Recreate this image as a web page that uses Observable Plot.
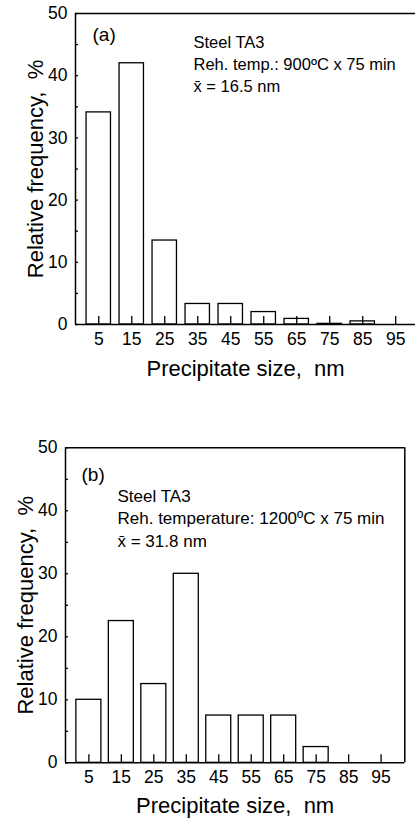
<!DOCTYPE html>
<html><head><meta charset="utf-8">
<script src="https://cdn.jsdelivr.net/npm/d3@7"></script>
<script src="https://cdn.jsdelivr.net/npm/@observablehq/plot@0.6"></script>
<style>
body{margin:0;background:#fff;width:415px;height:818px;overflow:hidden;}
#c svg{display:block;overflow:hidden}
</style></head><body><div id="c"></div>
<script>
const sizes = [5, 15, 25, 35, 45, 55, 65, 75, 85, 95];
const freqA = [34.1, 42, 13.5, 3.3, 3.3, 2.0, 0.9, 0.1, 0.5, 0];
const freqB = [10, 22.5, 12.5, 30, 7.5, 7.5, 7.5, 2.5, 0, 0];
const yMajor = [0, 10, 20, 30, 40, 50];
const yMinor = [5, 15, 25, 35, 45];
const notesA = ["Steel TA3", "Reh. temp.: 900ºC x 75 min", "x\u0304 = 16.5 nm"];
const notesB = ["Steel TA3", "Reh. temperature: 1200ºC x 75 min", "x\u0304 = 31.8 nm"];
const xTitle = "Precipitate size,\u00a0 nm";
const yTitle = "Relative frequency,\u00a0 %";

const FONT = "Liberation Sans, Arial, Helvetica, sans-serif";

function panel(o) {
  const rows = sizes.map((s, i) => ({size: s, freq: o.freq[i]}));
  const [x0, x1] = o.xDomain;
  const hb = o.halfBar;
  return Plot.plot({
    width: 415,
    height: o.h,
    marginLeft: o.mLeft,
    marginRight: o.mRight,
    marginTop: o.mTop,
    marginBottom: o.mBottom,
    x: {domain: o.xDomain},
    y: {domain: [0, 50]},
    style: {fontFamily: FONT, fontSize: "17px", color: "black", background: "white"},
    marks: [
      Plot.rectY(rows, {x1: d => d.size - hb, x2: d => d.size + hb, y: "freq", fill: "white", stroke: "black", strokeWidth: 1.3}),
      Plot.ruleX(sizes, {x: d => d, y1: 0, y2: 0, insetBottom: 8, stroke: "black", strokeWidth: 1.3}),
      Plot.ruleY(yMajor.concat(yMinor), {y: d => d, x1: x0, x2: x0, insetRight: -3, stroke: "black", strokeWidth: 1.3}),
      Plot.ruleY([0, 50], {stroke: "black", strokeWidth: 1.5}),
      Plot.ruleX(o.closed ? [x0, x1] : [x0], {stroke: "black", strokeWidth: 1.5}),
      Plot.axisY(yMajor, {tickSize: 0, tickPadding: 8, fontSize: 17.5, label: null, fill: "black"}),
      Plot.axisX(sizes, {tickSize: 0, tickPadding: 8, fontSize: 17.5, label: null, fill: "black"}),
      Plot.text([xTitle], {frameAnchor: "bottom", textAnchor: "middle", lineAnchor: "bottom", dy: o.xTitleDy, fontSize: 22, fill: "black"}),
      Plot.text([yTitle], {frameAnchor: "left", textAnchor: "middle", lineAnchor: "middle", rotate: -90, dx: -40, fontSize: 22, fill: "black"}),
      Plot.text([o.tag], {frameAnchor: "top-left", textAnchor: "start", lineAnchor: "bottom", dx: o.tagDx, dy: o.tagDy, fontSize: 19, fill: "black"}),
      Plot.text([o.notes.join("\n")], {frameAnchor: "top-left", textAnchor: "start", lineAnchor: "bottom", lineHeight: o.lineHeight, dx: o.noteDx, dy: o.noteDy, fontSize: o.noteSize, fill: "black"})
    ]
  });
}

const c = document.getElementById("c");
c.appendChild(panel({
  freq: freqA, notes: notesA, tag: "(a)",
  xDomain: [-2.05, 101], mLeft: 75, mRight: 0, mTop: 13, mBottom: 76, h: 400,
  closed: false, halfBar: 3.7, xTitleDy: 51,
  tagDx: 17, tagDy: 27.7, noteDx: 118, noteDy: 78.7, noteSize: 16.5, lineHeight: 1.345
}));
c.appendChild(panel({
  freq: freqB, notes: notesB, tag: "(b)",
  xDomain: [-2.2, 102.3], mLeft: 65, mRight: 10.7, mTop: 47.3, mBottom: 55.7, h: 418,
  closed: true, halfBar: 3.85, xTitleDy: 50,
  tagDx: 16, tagDy: 32.7, noteDx: 52, noteDy: 99.4, noteSize: 17, lineHeight: 1.34
}));
</script>
</body></html>
